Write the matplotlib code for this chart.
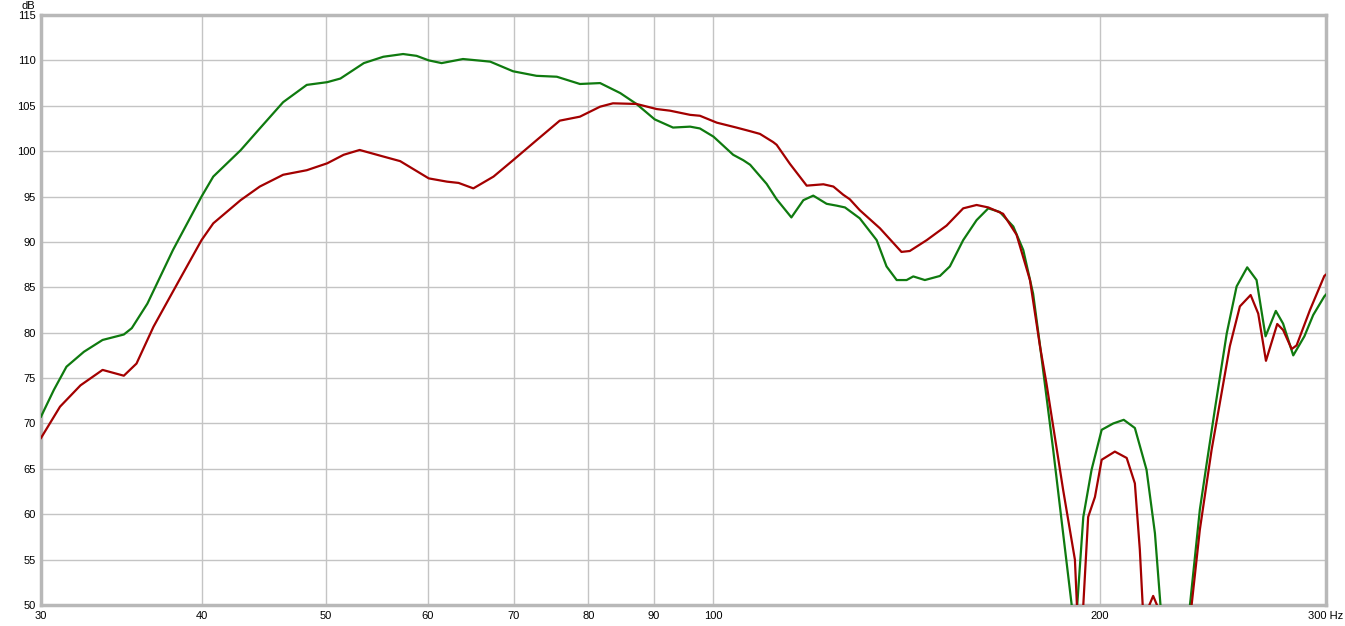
import matplotlib
matplotlib.use("Agg")
import matplotlib.pyplot as plt
from matplotlib.ticker import NullLocator

# green trace (frequency in Hz, level in dB)
green_freq = [30, 30.7, 31.4, 32.4, 33.5, 34.8, 35.3, 36.3, 38.0, 40.0, 40.85, 42.9, 44.4,
              46.3, 48.3, 50.1, 51.3, 53.5, 55.4, 57.4, 58.8, 60.1, 61.5, 63.9, 65.9,
              67.1, 69.9, 72.9, 75.6, 78.8, 81.7, 84.7, 87.2, 90.1, 93.1, 96.0, 97.7,
              100.1, 103.7, 105.6, 106.9, 110.1, 112.1, 115.1, 117.6, 119.7, 122.6,
              124.8, 126.7, 130.1, 134.1, 136.5, 139.0, 141.5, 143.2, 146.2, 150.2,
              152.9, 156.6, 160.4, 163.8, 167.2, 171.3, 174.4, 177.5, 179.7, 184.0,
              187.3, 190.2, 191.2, 192.1, 194.2, 197.1, 200.7, 204.9, 208.8, 213.0,
              217.5, 220.8, 223.0, 229.0, 235.1, 239.3, 242.2, 245.8, 251.1, 255.6,
              260.5, 264.9, 269.2, 274.2, 277.8, 282.9, 288.6, 293.2, 299.1, 300]
green_db = [70.75, 73.7, 76.25, 77.9, 79.2, 79.8, 80.5, 83.2, 89.1, 95.0, 97.2, 100.1, 102.5,
            105.4, 107.3, 107.6, 108.0, 109.7, 110.4, 110.7, 110.5, 110.0, 109.7, 110.15, 109.97,
            109.86, 108.8, 108.3, 108.2, 107.4, 107.5, 106.4, 105.2, 103.5, 102.6, 102.7, 102.5,
            101.6, 99.6, 99.0, 98.5, 96.4, 94.7, 92.7, 94.6, 95.1, 94.2,
            94.0, 93.8, 92.6, 90.2, 87.3, 85.8, 85.8, 86.2, 85.8, 86.25,
            87.3, 90.2, 92.4, 93.7, 93.3, 91.7, 89.1, 84.3, 78.6, 67.1,
            57.9, 50.0, 38.0, 50.0, 59.7, 64.9, 69.3, 70.0, 70.4, 69.5,
            64.9, 57.9, 50.0, 30.0, 50.0, 60.5, 65.5, 71.5, 79.9, 85.1,
            87.2, 85.8, 79.6, 82.4, 81.0, 77.5, 79.6, 81.95, 84.0, 84.2]

# red trace
red_freq = [30, 31.04, 32.2, 33.5, 34.8, 35.6, 36.7, 38.3, 40.0, 40.85,
            42.9, 44.4, 46.3, 48.3, 50.1, 51.6, 53.1, 55.1, 57.1, 60.1, 62.1, 63.4,
            65.1, 67.5, 69.9, 72.9, 76.0, 78.8, 81.7, 83.6, 87.2, 90.4, 92.6, 96.0,
            97.7, 100.7, 104.3, 106.9, 108.8, 111.4, 112.1, 114.8, 118.3, 121.9, 124.1,
            126.3, 127.8, 130.1, 134.9, 140.2, 142.3, 146.7, 152.0, 156.6, 160.4, 163.8,
            168.2, 172.3, 176.5, 179.7, 181.8, 187.3, 191.3, 193.1, 194.2, 195.9, 198.3,
            200.7, 205.5, 209.9, 213.0, 214.9, 216.0, 217.4, 218.6, 220.1, 221.6, 223.0,
            229.0, 235.8, 239.3, 244.4, 252.5, 257.1, 262.1, 265.7, 269.4, 274.9, 277.8,
            282.1, 284.6, 291.5, 299.1, 300]
red_db = [68.4, 71.85, 74.2, 75.9, 75.26, 76.6, 80.66, 85.4, 90.2, 92.05,
          94.6, 96.1, 97.4, 97.9, 98.66, 99.6, 100.13, 99.5, 98.9, 97.0, 96.64, 96.5,
          95.9, 97.2, 99.0, 101.2, 103.36, 103.8, 104.9, 105.27, 105.2, 104.64, 104.46, 104.0,
          103.9, 103.14, 102.6, 102.2, 101.9, 101.0, 100.7, 98.6, 96.2, 96.35, 96.1,
          95.2, 94.7, 93.5, 91.5, 88.9, 89.0, 90.2, 91.8, 93.7, 94.07, 93.8,
          93.1, 90.8, 85.8, 78.5, 74.4, 62.7, 55.0, 42.0, 50.0, 59.7, 61.9,
          66.0, 66.9, 66.2, 63.4, 56.1, 50.0, 45.0, 50.0, 51.0, 50.0, 45.0,
          30.0, 50.0, 58.3, 67.1, 78.5, 82.9, 84.15, 82.1, 76.9, 80.96, 80.3,
          78.2, 78.6, 82.5, 86.25, 86.4]

x_ticks = [30, 40, 50, 60, 70, 80, 90, 100, 200, 300]
x_labels = ["30", "40", "50", "60", "70", "80", "90", "100", "200", "300 Hz"]
y_ticks = list(range(50, 116, 5))

plt.rcParams['font.family'] = ['Liberation Sans', 'DejaVu Sans']

fig = plt.figure(figsize=(13.45, 6.26), dpi=100)
ax = fig.add_axes([41 / 1345, 21 / 626, 1285 / 1345, 590 / 626])

ax.plot(green_freq, green_db, color='#0f7a0f', lw=1.6, zorder=3)
ax.plot(red_freq, red_db, color='#a30000', lw=1.6, zorder=4)

ax.set_xscale('log')
ax.set_xlim(30, 300)
ax.set_ylim(50, 115)
ax.set_xticks(x_ticks)
ax.set_xticklabels(x_labels)
ax.xaxis.set_minor_locator(NullLocator())
ax.set_yticks(y_ticks)
ax.tick_params(length=0, labelsize=8, colors='black', pad=4)
ax.grid(True, color='#c4c4c4', lw=1)
ax.set_axisbelow(True)

for s in ax.spines.values():
    s.set_color('#b8b8b8')
    s.set_linewidth(2.5)

fig.text(35 / 1345, 1 - 6 / 626, "dB", ha='right', va='center', fontsize=8)

fig.savefig("out.png", dpi=100, facecolor='white')
